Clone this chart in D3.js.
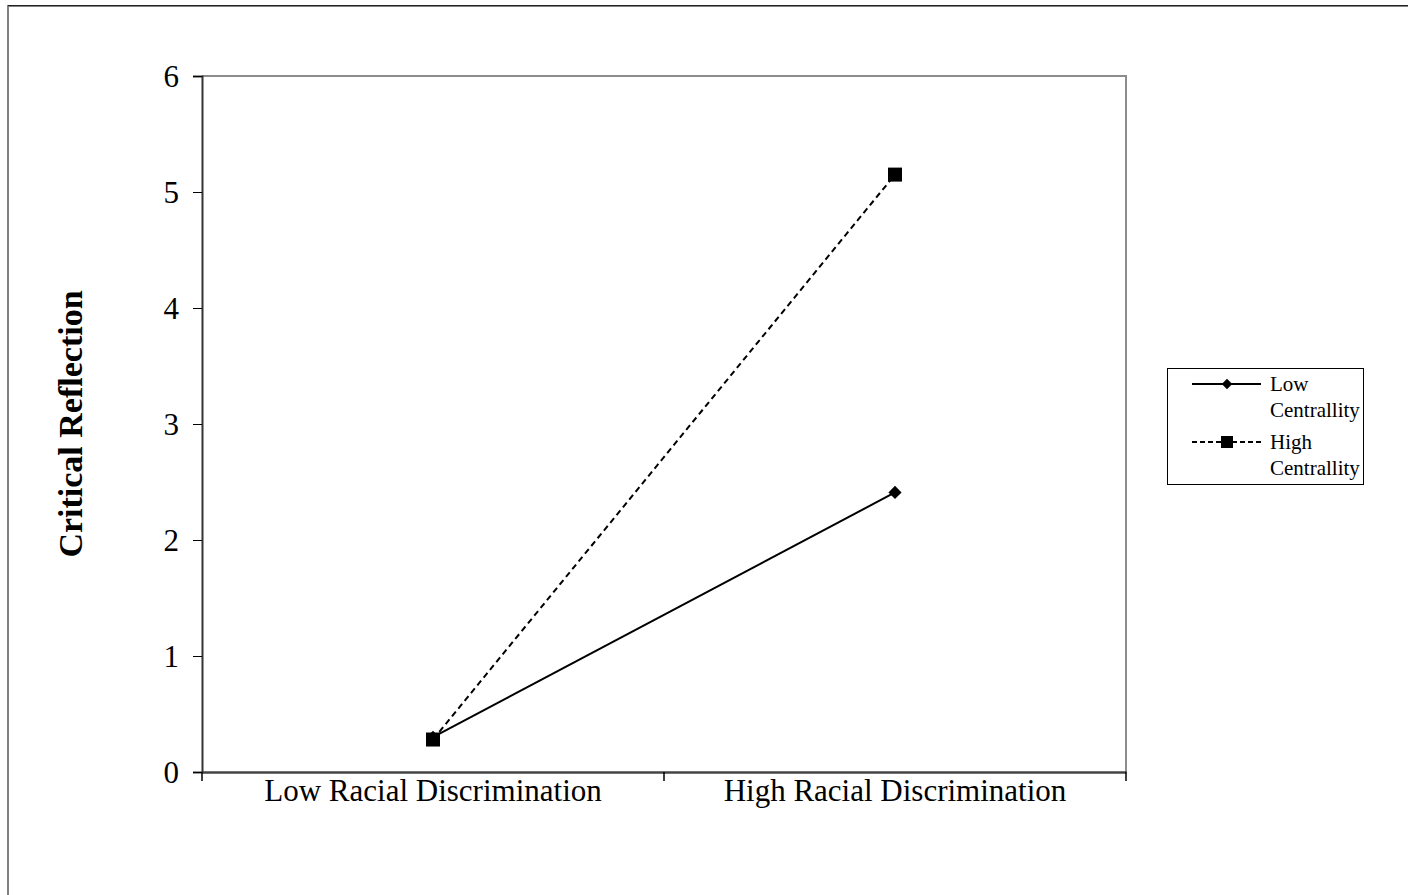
<!DOCTYPE html>
<html>
<head>
<meta charset="utf-8">
<script src="https://cdn.jsdelivr.net/npm/d3@7"></script>
<style>
  body { margin: 0; background: #fff; }
  text { font-family: "Liberation Serif", "Times New Roman", serif; fill: #000; }
</style>
</head>
<body>
<script>
// Data
const categories = ["Low Racial Discrimination", "High Racial Discrimination"];
const seriesNames = ["Low Centrallity", "High Centrallity"];
const lowCentrality = [0.30, 2.41];
const highCentrality = [0.28, 5.15];
const yTicks = [0, 1, 2, 3, 4, 5, 6];

const W = 1408, H = 895;
const margin = {top: 76, right: 282, bottom: 123, left: 202};
const width = W - margin.left - margin.right;
const height = H - margin.top - margin.bottom;

const svg = d3.select("body").append("svg")
    .attr("width", W)
    .attr("height", H);

// outer chart frame (cut off at right and bottom like the reference)
svg.append("path")
    .attr("d", "M 8 " + (H + 2) + " L 8 6 L " + (W + 2) + " 6")
    .attr("fill", "none")
    .attr("stroke", "#808080")
    .attr("stroke-width", 2);
svg.append("line")
    .attr("x1", 8).attr("x2", W).attr("y1", 5.5).attr("y2", 5.5)
    .attr("stroke", "#222").attr("stroke-width", 1);

const g = svg.append("g")
    .attr("transform", "translate(" + margin.left + "," + margin.top + ")");

const x = d3.scaleBand().domain(categories).range([0, width]);
const y = d3.scaleLinear().domain([0, 6]).range([height, 0]);

// plot area border (top and right in grey)
g.append("path")
    .attr("d", "M 0 0 L " + width + " 0 L " + width + " " + height)
    .attr("fill", "none")
    .attr("stroke", "#8c8c8c")
    .attr("stroke-width", 2);

// y axis
const yAxis = g.append("g")
    .call(d3.axisLeft(y).tickValues(yTicks).tickSize(9).tickPadding(14).tickFormat(d3.format("d")));
yAxis.select(".domain").attr("stroke", "#333").attr("stroke-width", 2);
yAxis.selectAll(".tick line").attr("stroke", "#000");
yAxis.selectAll("text")
    .style("font-family", '"Liberation Serif", serif')
    .style("font-size", "31px")
    .attr("dy", "0.35em");

// x axis
const xAxis = g.append("g")
    .attr("transform", "translate(0," + height + ")")
    .call(d3.axisBottom(x).tickSize(0));
xAxis.select(".domain").attr("stroke", "#444").attr("stroke-width", 2.5);
xAxis.selectAll("text")
    .style("font-family", '"Liberation Serif", serif')
    .style("font-size", "31px")
    .attr("y", 29)
    .attr("dy", 0);
// ticks at the band edges
const edges = [0].concat(categories.map(c => x(c) + x.bandwidth()));
g.selectAll("line.xtick")
    .data(edges)
    .enter().append("line")
    .attr("class", "xtick")
    .attr("x1", d => d).attr("x2", d => d)
    .attr("y1", height).attr("y2", height + 9)
    .attr("stroke", "#000").attr("stroke-width", 1.5);

// y title
svg.append("text")
    .attr("transform", "translate(82,424) rotate(-90)")
    .attr("text-anchor", "middle")
    .style("font-size", "34px")
    .style("font-weight", "bold")
    .text("Critical Reflection");

const cx = c => x(c) + x.bandwidth() / 2;
const line = d3.line()
    .x((d, i) => cx(categories[i]))
    .y(d => y(d));

// solid line with diamonds
g.append("path")
    .datum(lowCentrality)
    .attr("d", line)
    .attr("fill", "none")
    .attr("stroke", "#000")
    .attr("stroke-width", 2);

// dashed line with squares
g.append("path")
    .datum(highCentrality)
    .attr("d", line)
    .attr("fill", "none")
    .attr("stroke", "#000")
    .attr("stroke-width", 2)
    .attr("stroke-dasharray", "6,4");

g.selectAll("path.diamond")
    .data(lowCentrality)
    .enter().append("path")
    .attr("class", "diamond")
    .attr("d", d3.symbol(d3.symbolDiamond2, 110))
    .attr("transform", (d, i) => "translate(" + cx(categories[i]) + "," + y(d) + ")")
    .attr("fill", "#000");

g.selectAll("rect.square")
    .data(highCentrality)
    .enter().append("rect")
    .attr("class", "square")
    .attr("x", (d, i) => cx(categories[i]) - 7)
    .attr("y", d => y(d) - 7)
    .attr("width", 14).attr("height", 14)
    .attr("fill", "#000");

// legend
const leg = svg.append("g").attr("transform", "translate(1167,368)");
leg.append("rect")
    .attr("x", 0.5).attr("y", 0.5)
    .attr("width", 196).attr("height", 116)
    .attr("fill", "#fff")
    .attr("stroke", "#000").attr("stroke-width", 1);

const legRows = [
    {name: seriesNames[0], y: 16, dash: null, sym: "diamond"},
    {name: seriesNames[1], y: 74, dash: "5,3", sym: "square"}
];
legRows.forEach(function (r) {
    leg.append("line")
        .attr("x1", 25).attr("x2", 94)
        .attr("y1", r.y).attr("y2", r.y)
        .attr("stroke", "#000").attr("stroke-width", 2)
        .attr("stroke-dasharray", r.dash);
    if (r.sym === "diamond") {
        leg.append("path")
            .attr("d", d3.symbol(d3.symbolDiamond2, 70))
            .attr("transform", "translate(60," + r.y + ")")
            .attr("fill", "#000");
    } else {
        leg.append("rect")
            .attr("x", 54).attr("y", r.y - 6)
            .attr("width", 12).attr("height", 12)
            .attr("fill", "#000");
    }
    const words = r.name.split(" ");
    leg.append("text")
        .attr("x", 103).attr("y", r.y + 7)
        .style("font-size", "21px")
        .text(words[0]);
    leg.append("text")
        .attr("x", 103).attr("y", r.y + 33)
        .style("font-size", "21px")
        .text(words[1]);
});
</script>
</body>
</html>
